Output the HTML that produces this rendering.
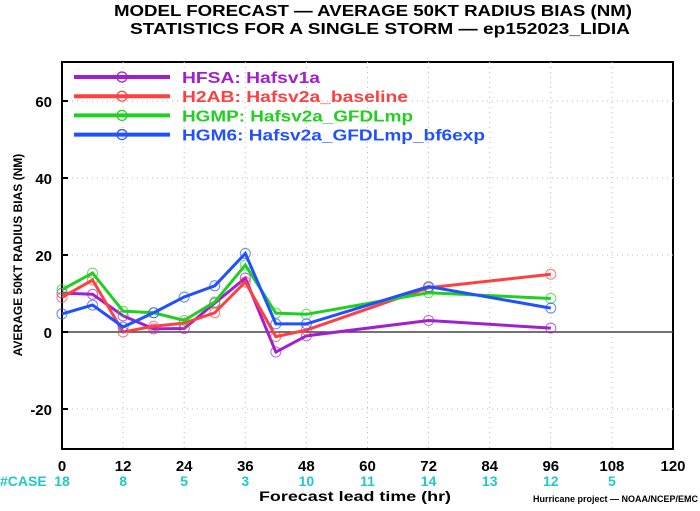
<!DOCTYPE html>
<html><head><meta charset="utf-8"><style>
body{margin:0;background:#fff;}
svg text{font-family:"Liberation Sans",sans-serif;font-weight:bold;}
</style></head><body>
<svg width="700" height="506" viewBox="0 0 700 506" xmlns="http://www.w3.org/2000/svg">
<text x="114" y="16" textLength="518" lengthAdjust="spacingAndGlyphs" font-size="16">MODEL FORECAST — AVERAGE 50KT RADIUS BIAS (NM)</text>
<text x="130" y="34" textLength="500" lengthAdjust="spacingAndGlyphs" font-size="16">STATISTICS FOR A SINGLE STORM — ep152023_LIDIA</text>
<rect x="62" y="62" width="611" height="387" fill="none" stroke="#000" stroke-width="2"/>
<g id="grid"></g><g id="axes"></g><g id="series"></g><g id="legend"></g>
<text x="22" y="255" transform="rotate(-90 22 255)" text-anchor="middle" font-size="12">AVERAGE 50KT RADIUS BIAS (NM)</text>
<text x="0" y="486" font-size="14" fill="#20c8c8">#CASE</text>
<text x="259" y="501" textLength="192" lengthAdjust="spacingAndGlyphs" font-size="14">Forecast lead time (hr)</text>
<text x="698" y="502" text-anchor="end" font-size="9" font-weight="normal">Hurricane project — NOAA/NCEP/EMC</text>
</svg>
<script>
const xTicks=[0,12,24,36,48,60,72,84,96,108,120];
const yTicks=[-20,0,20,40,60];
const caseX=[0,12,24,36,48,60,72,84,96,108];
const caseCounts=[18,8,5,3,10,11,14,13,12,5];
const leadTimes=[0,6,12,18,24,30,36,42,48,72,96];
const hfsa=[10.1,9.8,4.2,0.8,0.9,7.5,14,-5.2,-1,3,1];
const h2ab=[9,13.5,0,1.5,2.3,5,13,-1.2,0.5,11.5,15];
const hgmp=[11,15.3,5.4,5,3,7.8,17.4,4.9,4.6,10.2,8.7];
const hgm6=[4.7,7,1.3,5,9.1,12,20.4,2.1,2.1,11.8,6.2];
const names=["HFSA: Hafsv1a","H2AB: Hafsv2a_baseline","HGMP: Hafsv2a_GFDLmp","HGM6: Hafsv2a_GFDLmp_bf6exp"];
const legendLens=[138,226,231,303];
const colors=["#a020d0","#ff4040","#20d020","#2050ff"];
const NS="http://www.w3.org/2000/svg";
const X=v=>62+v*(611/120), Y=v=>332-v*3.85;
function mk(t,a,p){const e=document.createElementNS(NS,t);for(const k in a)e.setAttribute(k,a[k]);p.appendChild(e);return e;}
const grid=document.getElementById('grid'),axes=document.getElementById('axes'),ser=document.getElementById('series'),leg=document.getElementById('legend');
xTicks.forEach(t=>{
 if(t>0&&t<120){const l=mk('line',{x1:X(t),x2:X(t),y1:62,y2:449,stroke:'#bbb','stroke-dasharray':'1,4'},grid);
 
 }
 const tx=mk('text',{x:X(t),y:471,'text-anchor':'middle','font-size':'15'},axes);tx.textContent=t;
 
 
});
yTicks.forEach(t=>{
 const l=mk('line',{x1:62,x2:673,y1:Y(t),y2:Y(t),stroke:t==0?'#444':'#bbb','stroke-width':t==0?1.5:1,'stroke-dasharray':t==0?'none':'1,4'},grid);
 
 
 mk('line',{x1:62,x2:68,y1:Y(t),y2:Y(t),stroke:'#000','stroke-width':2},axes);
 const tx=mk('text',{x:52,y:Y(t)+6,'text-anchor':'end','font-size':'15'},axes);tx.textContent=t;
 
 
});
caseX.forEach((c,i)=>{
 const tx=mk('text',{x:X(c),y:486,'text-anchor':'middle','font-size':'14',fill:'#20c8c8'},axes);tx.textContent=caseCounts[i];
 
 
});
[hfsa,h2ab,hgmp,hgm6].forEach((d,s)=>{
 const g=mk('g',{},ser);
 
 
 mk('polyline',{points:d.map((v,i)=>X(leadTimes[i])+','+Y(v)).join(' '),fill:'none',stroke:colors[s],'stroke-width':3},g);
 d.forEach((v,i)=>{const c=mk('circle',{cx:X(leadTimes[i]),cy:Y(v),r:5,fill:'none',stroke:colors[s],'stroke-width':1,opacity:0.7},g);
 
 });
 const ly=77+s*19.2;
 const lg=mk('g',{},leg);
 
 
 mk('line',{x1:74,x2:170,y1:ly,y2:ly,stroke:colors[s],'stroke-width':4},lg);
 mk('circle',{cx:122,cy:ly,r:5,fill:'none',stroke:colors[s],'stroke-width':1.2},lg);
 const t=mk('text',{x:182,y:ly+6,'font-size':'16',fill:colors[s],textLength:legendLens[s],lengthAdjust:'spacingAndGlyphs'},lg);t.textContent=names[s];
});
</script>
</body></html>
